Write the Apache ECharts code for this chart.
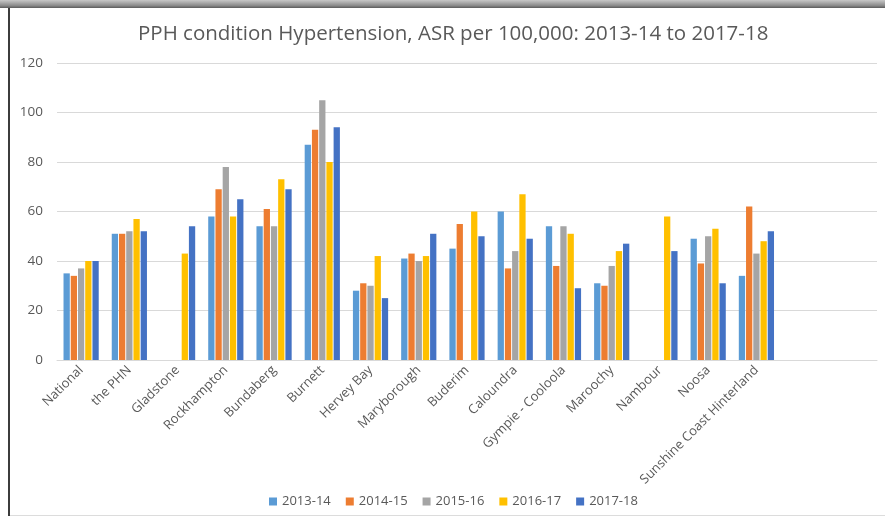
<!DOCTYPE html>
<html>
<head>
<meta charset="utf-8">
<script src="https://cdn.jsdelivr.net/npm/echarts@6/dist/echarts.min.js"></script>
<style>
  html, body { margin: 0; padding: 0; background: #ffffff; }
  #chart { width: 885px; height: 522px; }
</style>
</head>
<body>
<div id="chart"></div>
<script>
// Regions (two trailing blank slots keep the spacing of the plot area)
const categories = [
  'National', 'the PHN', 'Gladstone', 'Rockhampton', 'Bundaberg', 'Burnett',
  'Hervey Bay', 'Maryborough', 'Buderim', 'Caloundra', 'Gympie - Cooloola',
  'Maroochy', 'Nambour', 'Noosa', 'Sunshine Coast Hinterland', '', ''
];

const seriesNames = ['2013-14', '2014-15', '2015-16', '2016-17', '2017-18'];

// ASR per 100,000 by financial year (null = not reported)
const y2013_14 = [35, 51, null, 58, 54, 87, 28, 41, 45, 60, 54, 31, null, 49, 34, null, null];
const y2014_15 = [34, 51, null, 69, 61, 93, 31, 43, 55, 37, 38, 30, null, 39, 62, null, null];
const y2015_16 = [37, 52, null, 78, 54, 105, 30, 40, null, 44, 54, 38, null, 50, 43, null, null];
const y2016_17 = [40, 57, 43, 58, 73, 80, 42, 42, 60, 67, 51, 44, 58, 53, 48, null, null];
const y2017_18 = [40, 52, 54, 65, 69, 94, 25, 51, 50, 49, 29, 47, 44, 31, 52, null, null];

const yTicks = { min: 0, max: 120, interval: 20 };

const colors = ['#5B9BD5', '#ED7D31', '#A5A5A5', '#FFC000', '#4472C4'];
const valueSets = [y2013_14, y2014_15, y2015_16, y2016_17, y2017_18];

const FONT = '"Open Sans", "Liberation Sans", sans-serif';
const TEXT = '#595959';

const chart = echarts.init(document.getElementById('chart'), null, { renderer: 'canvas' });

chart.setOption({
  animation: false,
  backgroundColor: '#ffffff',
  color: colors,
  title: {
    text: 'PPH condition Hypertension, ASR per 100,000: 2013-14 to 2017-18',
    left: 133,
    top: 19,
    textStyle: { fontFamily: FONT, fontSize: 20.5, fontWeight: 'normal', color: TEXT }
  },
  legend: {
    bottom: 9,
    left: 264,
    itemWidth: 8,
    itemHeight: 8,
    itemGap: 15,
    icon: 'rect',
    textStyle: { fontFamily: FONT, fontSize: 13, color: TEXT },
    data: seriesNames
  },
  grid: { left: 57, right: 8, top: 63, bottom: 162, containLabel: false },
  xAxis: {
    type: 'category',
    data: categories,
    axisLine: { lineStyle: { color: '#d9d9d9', width: 1 } },
    axisTick: { show: false },
    axisLabel: {
      interval: 0,
      rotate: 45,
      margin: 8,
      fontFamily: FONT,
      fontSize: 13,
      color: TEXT
    }
  },
  yAxis: {
    type: 'value',
    min: yTicks.min,
    max: yTicks.max,
    interval: yTicks.interval,
    axisLine: { show: false },
    axisTick: { show: false },
    splitLine: { lineStyle: { color: '#d9d9d9', width: 1 } },
    axisLabel: { margin: 14, fontFamily: FONT, fontSize: 13.5, color: TEXT }
  },
  series: seriesNames.map((name, i) => ({
    name,
    type: 'bar',
    data: valueSets[i],
    barGap: '15%',
    barCategoryGap: '27%',
    itemStyle: { color: colors[i] }
  })),
  graphic: [
    // Window-style frame around the chart
    {
      type: 'rect',
      shape: { x: 0, y: 0, width: 885, height: 8 },
      style: {
        fill: new echarts.graphic.LinearGradient(0, 0, 0, 1, [
          { offset: 0, color: '#c8c8c8' },
          { offset: 0.7, color: '#8a8a8a' },
          { offset: 1, color: '#5a5a5a' }
        ])
      },
      silent: true
    },
    {
      type: 'rect',
      shape: { x: 8, y: 8, width: 2, height: 508 },
      style: { fill: '#3c3c3c' },
      silent: true
    },
    {
      type: 'rect',
      shape: { x: 10, y: 515, width: 875, height: 1 },
      style: { fill: '#dcdcdc' },
      silent: true
    }
  ]
});
</script>
</body>
</html>
